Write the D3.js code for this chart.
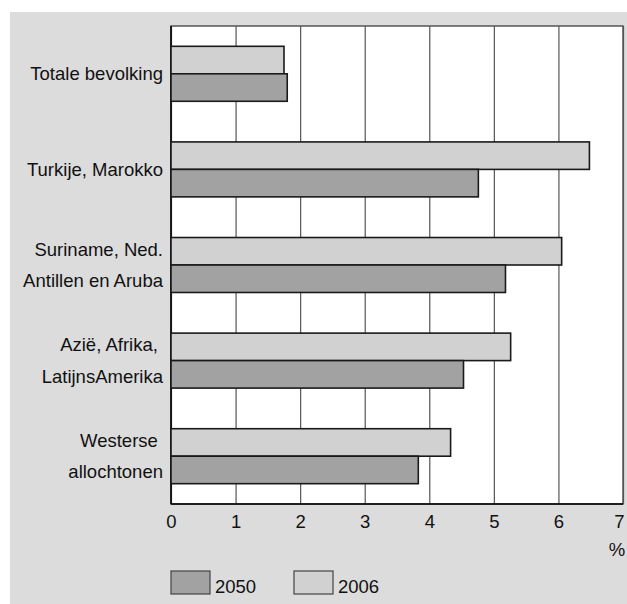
<!DOCTYPE html>
<html>
<head>
<meta charset="utf-8">
<script src="https://cdn.jsdelivr.net/npm/d3@7"></script>
<style>
    body { margin: 0; background: #fff; }
    svg { display: block; font-family: 'Liberation Sans', Arial, sans-serif; }
</style>
</head>
<body>
<div id="chart"></div>
<script>
// Data
const categories = [
    ['Totale bevolking'],
    ['Turkije, Marokko'],
    ['Suriname, Ned.', 'Antillen en Aruba'],
    ['Azië, Afrika, ', 'LatijnsAmerika'],
    ['Westerse ', 'allochtonen']
];
const values2006 = [1.75, 6.48, 6.05, 5.26, 4.33];
const values2050 = [1.80, 4.76, 5.18, 4.53, 3.83];
const xTicks = [0, 1, 2, 3, 4, 5, 6, 7];
const seriesNames = ['2050', '2006'];

const COLORS = {
    panel: '#dcdcdc',
    plot: '#ffffff',
    s2006: '#d1d1d1',
    s2050: '#a2a2a2',
    barStroke: '#1a1a1a',
    grid: '#555555',
    text: '#111111'
};

const W = 627, H = 604;
const plot = { left: 171, right: 623, top: 26, bottom: 504 };
const FONT = '18.5px';

const svg = d3.select('#chart').append('svg')
    .attr('width', W)
    .attr('height', H);

// grey panel
svg.append('rect')
    .attr('x', 10).attr('y', 12)
    .attr('width', W - 10).attr('height', H - 12)
    .attr('fill', COLORS.panel);

svg.append('rect')
    .attr('x', plot.left).attr('y', plot.top)
    .attr('width', plot.right - plot.left).attr('height', plot.bottom - plot.top)
    .attr('fill', COLORS.plot);

// Scales
const x = d3.scaleLinear().domain([0, 7]).range([plot.left, plot.right]);
const y = d3.scaleBand()
    .domain(d3.range(categories.length))
    .range([plot.top, plot.bottom])
    .paddingInner(0.425)
    .paddingOuter(0.2125);
const sub = d3.scaleBand().domain(['2006', '2050']).range([0, y.bandwidth()]);

// Axis with grid lines
const xAxisG = svg.append('g')
    .attr('transform', `translate(0,${plot.bottom})`)
    .call(d3.axisBottom(x).tickValues(xTicks).tickFormat(d3.format('d'))
        .tickSizeInner(-(plot.bottom - plot.top)).tickSizeOuter(0).tickPadding(11));
xAxisG.select('.domain').remove();
xAxisG.selectAll('.tick line').attr('stroke', COLORS.grid).attr('stroke-width', 1.2);
xAxisG.selectAll('.tick text')
    .attr('fill', COLORS.text)
    .style('font-size', FONT);
// last label sits flush with the right edge of the plot
xAxisG.selectAll('.tick text').filter(d => d === 7)
    .attr('text-anchor', 'end')
    .attr('x', 1);

// plot frame
svg.append('rect')
    .attr('x', plot.left).attr('y', plot.top)
    .attr('width', plot.right - plot.left).attr('height', plot.bottom - plot.top)
    .attr('fill', 'none')
    .attr('stroke', COLORS.grid)
    .attr('stroke-width', 1.5);
svg.append('line')
    .attr('x1', plot.left).attr('x2', plot.left)
    .attr('y1', plot.top).attr('y2', plot.bottom)
    .attr('stroke', '#000').attr('stroke-width', 1.5);
svg.append('line')
    .attr('x1', plot.left).attr('x2', plot.right)
    .attr('y1', plot.bottom).attr('y2', plot.bottom)
    .attr('stroke', '#000').attr('stroke-width', 1.5);

// Bars
const groups = svg.append('g').selectAll('g')
    .data(categories.map((c, i) => ({ i, v2006: values2006[i], v2050: values2050[i] })))
    .join('g')
    .attr('transform', d => `translate(0,${y(d.i)})`);

groups.append('rect')
    .attr('x', x(0))
    .attr('y', sub('2006'))
    .attr('width', d => x(d.v2006) - x(0))
    .attr('height', sub.bandwidth())
    .attr('fill', COLORS.s2006)
    .attr('stroke', COLORS.barStroke)
    .attr('stroke-width', 1.6);

groups.append('rect')
    .attr('x', x(0))
    .attr('y', sub('2050'))
    .attr('width', d => x(d.v2050) - x(0))
    .attr('height', sub.bandwidth())
    .attr('fill', COLORS.s2050)
    .attr('stroke', COLORS.barStroke)
    .attr('stroke-width', 1.6);

// Category labels (one or two lines)
const labels = svg.append('g').selectAll('text')
    .data(categories)
    .join('text')
    .attr('text-anchor', 'end')
    .attr('fill', COLORS.text)
    .style('font-size', FONT)
    .style('white-space', 'pre');

labels.each(function (lines, i) {
    const t = d3.select(this);
    if (lines.length === 1) {
        t.append('tspan')
            .attr('x', plot.left - 8)
            .attr('y', y(i) + y.bandwidth() / 2)
            .attr('dy', '0.35em')
            .text(lines[0]);
    } else {
        lines.forEach((line, j) => {
            t.append('tspan')
                .attr('x', plot.left - 8)
                .attr('y', y(i) + sub(j === 0 ? '2006' : '2050') + sub.bandwidth() / 2 - 2 + j * 4)
                .attr('dy', '0.35em')
                .text(line);
        });
    }
});

// unit
svg.append('text')
    .attr('x', x(7) - 6)
    .attr('y', 556)
    .attr('text-anchor', 'middle')
    .attr('fill', COLORS.text)
    .style('font-size', FONT)
    .text('%');

// Legend
const legend = svg.append('g').selectAll('g')
    .data(seriesNames)
    .join('g')
    .attr('transform', (d, i) => `translate(${plot.left + i * 123},571)`);

legend.append('rect')
    .attr('width', 39).attr('height', 23)
    .attr('fill', d => d === '2050' ? COLORS.s2050 : COLORS.s2006)
    .attr('stroke', '#444')
    .attr('stroke-width', 1.2);

legend.append('text')
    .attr('x', 44).attr('y', 22)
    .attr('fill', COLORS.text)
    .style('font-size', FONT)
    .text(d => d);
</script>
</body>
</html>
